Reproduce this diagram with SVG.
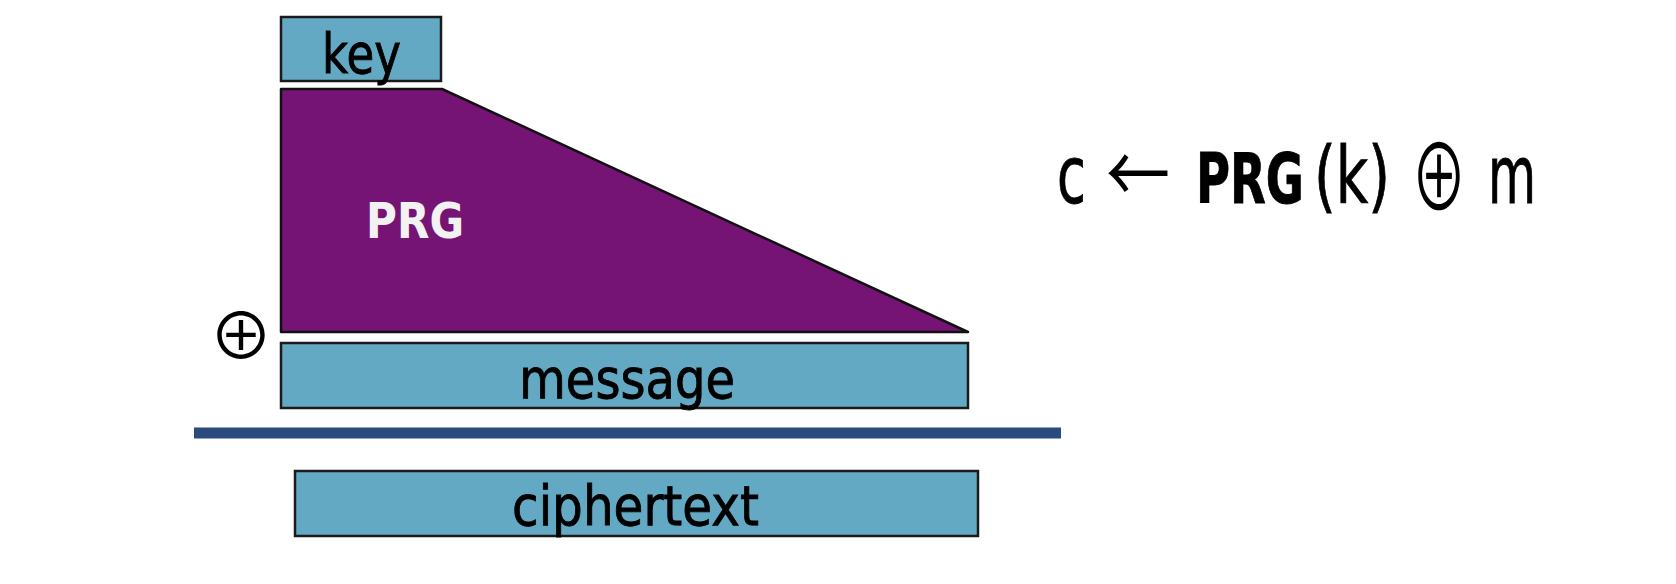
<svg xmlns="http://www.w3.org/2000/svg" width="1676" height="584" viewBox="0 0 1676 584">
<style>
.box{fill:#64a9c3;stroke:#1a1a1a;stroke-width:2.5}
.prg{fill:#761475;stroke:#111;stroke-width:2.5;stroke-linejoin:round}
.t{font-family:"DejaVu Sans",Verdana,sans-serif;fill:#000;stroke:#000;stroke-width:0.9}
.o{font-family:"Noto Sans CJK SC","DejaVu Sans",sans-serif;fill:#000}
.w{font-family:"DejaVu Sans",Verdana,sans-serif;font-weight:bold;fill:#f2f2f2}
</style>
<rect width="1676" height="584" fill="#fff"/>
<g id="key">
<rect class="box" x="281" y="17" width="160" height="64"/>
<text class="t" x="322" y="73" font-size="56" textLength="79" lengthAdjust="spacingAndGlyphs">key</text>
</g>
<g id="prg">
<polygon class="prg" points="281,89 442,89 968,332 281,332"/>
<text class="w" x="366" y="238" font-size="50" textLength="98" lengthAdjust="spacingAndGlyphs">PRG</text>
</g>
<g id="xor">
<text class="o" x="241" y="359" font-size="64" text-anchor="middle">⊕</text>
</g>
<g id="message">
<rect class="box" x="281" y="343" width="687" height="65"/>
<text class="t" x="519" y="398" font-size="56" textLength="216" lengthAdjust="spacingAndGlyphs">message</text>
</g>
<g id="connectors">
<line x1="194" y1="433" x2="1061" y2="433" stroke="#2b4a7d" stroke-width="11"/>
</g>
<g id="ciphertext">
<rect class="box" x="295" y="471" width="683" height="65"/>
<text class="t" x="512" y="525" font-size="56" textLength="247" lengthAdjust="spacingAndGlyphs">ciphertext</text>
</g>
<g id="formula">
<text class="t" transform="translate(1057,203) scale(0.659,1)" font-size="80">c</text>
<text class="o" transform="translate(1106,203) scale(0.8,1)" font-size="80">←</text>
<text class="t" transform="translate(1196,203) scale(0.664,1)" font-size="70" font-weight="bold">PRG</text>
<text class="t" transform="translate(1314,203) scale(0.717,1)" font-size="78">(k)</text>
<text class="o" transform="translate(1411,211) scale(0.609,1)" font-size="92">⊕</text>
<text class="t" transform="translate(1488,203) scale(0.616,1)" font-size="80">m</text>
</g>
</svg>
